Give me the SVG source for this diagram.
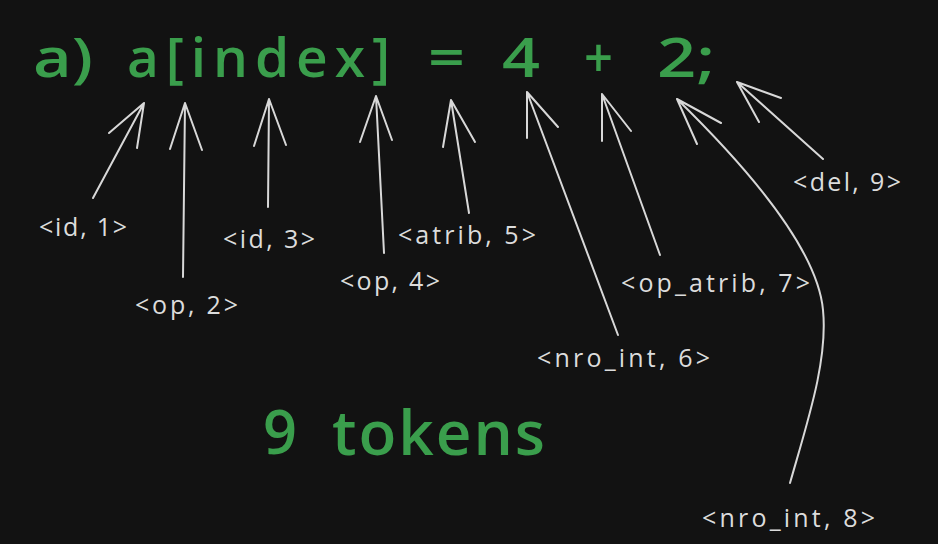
<svg xmlns="http://www.w3.org/2000/svg" width="938" height="544" viewBox="0 0 938 544">
<defs>
<style>
.bg{fill:#121212}
.g{fill:#3a9e4c;font-family:"Open Sans","Liberation Sans",sans-serif;font-weight:600}
.t{font-size:55px}
.big{font-size:62px}
.lbl{fill:#dcdcdc;font-family:"Open Sans","Liberation Sans",sans-serif;font-size:25px}
.c path{fill:none;stroke:#d8d8d8;stroke-width:2;stroke-linecap:round;stroke-linejoin:round}
</style>
</defs>
<rect class="bg" x="0" y="0" width="938" height="544"/>
<g id="title">
<text class="g t" x="33" y="77" textLength="60" lengthAdjust="spacingAndGlyphs">a)</text>
<text class="g t" x="127" y="77" textLength="263" lengthAdjust="spacing">a[index]</text>
<text class="g t" x="428" y="77" textLength="37" lengthAdjust="spacingAndGlyphs">=</text>
<text class="g t" x="502" y="77" textLength="38" lengthAdjust="spacingAndGlyphs">4</text>
<text class="g t" x="584" y="77" textLength="29" lengthAdjust="spacingAndGlyphs">+</text>
<text class="g t" x="657" y="77" textLength="58" lengthAdjust="spacingAndGlyphs">2;</text>
</g>
<g id="count">
<text class="g big" x="263" y="454" textLength="34" lengthAdjust="spacingAndGlyphs">9</text>
<text class="g big" x="332" y="455" textLength="213" lengthAdjust="spacing">tokens</text>
</g>
<g id="tok1"><text class="lbl" x="39" y="236" textLength="88" lengthAdjust="spacing">&lt;id, 1&gt;</text></g>
<g id="tok2"><text class="lbl" x="135" y="314" textLength="103" lengthAdjust="spacing">&lt;op, 2&gt;</text></g>
<g id="tok3"><text class="lbl" x="223" y="248" textLength="92" lengthAdjust="spacing">&lt;id, 3&gt;</text></g>
<g id="tok4"><text class="lbl" x="340" y="290" textLength="100" lengthAdjust="spacing">&lt;op, 4&gt;</text></g>
<g id="tok5"><text class="lbl" x="398" y="244" textLength="138" lengthAdjust="spacing">&lt;atrib, 5&gt;</text></g>
<g id="tok6"><text class="lbl" x="537" y="367" textLength="173" lengthAdjust="spacing">&lt;nro_int, 6&gt;</text></g>
<g id="tok7"><text class="lbl" x="621" y="292" textLength="189" lengthAdjust="spacing">&lt;op_atrib, 7&gt;</text></g>
<g id="tok8"><text class="lbl" x="702" y="527" textLength="173" lengthAdjust="spacing">&lt;nro_int, 8&gt;</text></g>
<g id="tok9"><text class="lbl" x="793" y="191" textLength="108" lengthAdjust="spacing">&lt;del, 9&gt;</text></g>
<g id="connectors" class="c">
<path d="M93,198 L144,103 M109,133 L144,103 L137,148"/>
<path d="M183,277 L185,103 M170,149 L185,103 L202,150"/>
<path d="M268,207 L269,99 M254,146 L269,99 L286,145"/>
<path d="M384,253 L376,96 M360,142 L376,96 L392,140"/>
<path d="M469,213 L451,100 M443,147 L451,100 L475,142"/>
<path d="M618,335 L527,92 M527,138 L527,92 L558,127"/>
<path d="M660,255 L602,94 M602,141 L602,94 L631,131"/>
<path d="M790,483 C808,420 828,360 823,310 C818,255 760,180 677,99 M697,144 L677,99 L721,123"/>
<path d="M823,159 L737,82 M759,122 L737,82 L781,98"/>
</g>
</svg>
